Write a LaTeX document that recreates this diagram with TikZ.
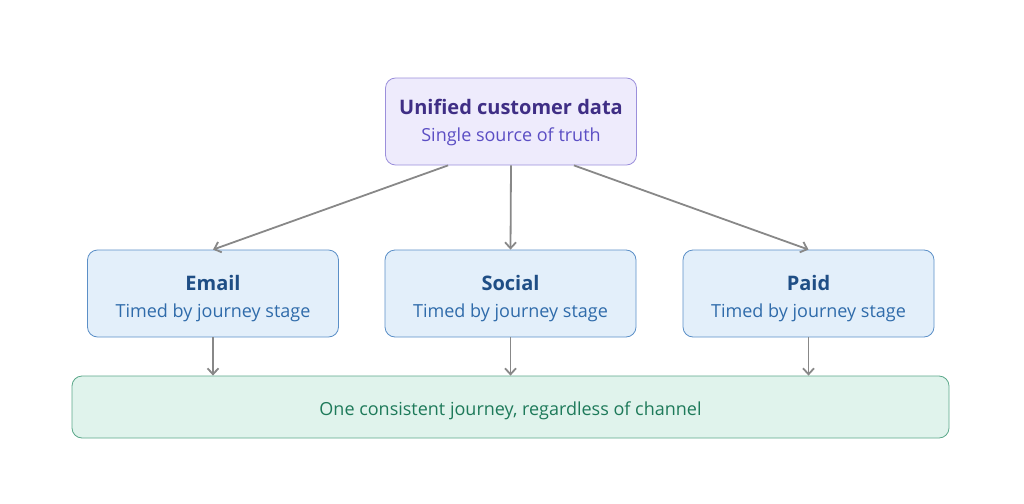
\documentclass[tikz,border=0pt]{standalone}
\usepackage{fontspec}
\setmainfont{Open Sans}
\usetikzlibrary{arrows.meta,positioning,calc}

\definecolor{topfill}{HTML}{EEEBFC}
\definecolor{topdraw}{HTML}{9B8FDB}
\definecolor{toptitle}{HTML}{3F2E85}
\definecolor{topsub}{HTML}{5B4EC4}
\definecolor{chfill}{HTML}{E3EFFA}
\definecolor{chdraw}{HTML}{5B8FC7}
\definecolor{chtitle}{HTML}{1F4E85}
\definecolor{chsub}{HTML}{2F6BAA}
\definecolor{endfill}{HTML}{E0F3EC}
\definecolor{enddraw}{HTML}{5BA88A}
\definecolor{endtext}{HTML}{1E7A5A}
\definecolor{linkgray}{HTML}{888888}

\begin{document}
\begin{tikzpicture}[x=1pt,y=-1pt,
    box/.style={rectangle, rounded corners=10pt, line width=0.8pt,
      minimum width=251pt, minimum height=87pt, inner sep=0pt},
    hub/.style={box, fill=topfill, draw=topdraw},
    channel/.style={box, fill=chfill, draw=chdraw},
    outcome/.style={box, fill=endfill, draw=enddraw, minimum width=877pt, minimum height=62pt},
    title/.style={anchor=base, inner sep=0pt, font=\fontsize{20}{24}\selectfont\bfseries},
    sub/.style={anchor=base, inner sep=0pt, font=\fontsize{18}{22}\selectfont},
    link/.style={-{Straight Barb[length=6pt,width=11pt]}, draw=linkgray, line width=1.8pt}]

  \useasboundingbox (0,0) rectangle (1024,503);

  % boxes
  \node[hub]     (data)    at (511,121.5) {};
  \node[channel] (email)   at (213,293.5) {};
  \node[channel] (social)  at (510.5,293.5) {};
  \node[channel] (paid)    at (808.5,293.5) {};
  \node[outcome] (journey) at (510.5,407) {};

  % texts
  \node[title, text=toptitle] (datatitle) at ($(data.center)+(0,-7.5)$) {Unified customer data};
  \node[sub, text=topsub]     (datasub)   at ($(data.center)+(0,19.5)$) {Single source of truth};
  \foreach \ch/\name in {email/Email, social/Social, paid/Paid} {
    \node[title, text=chtitle] (\ch title) at ($(\ch.center)+(0,-3.5)$) {\name};
    \node[sub, text=chsub]     (\ch sub)   at ($(\ch.center)+(0,24)$) {Timed by journey stage};
  }
  \node[sub, text=endtext] (journeytext) at ($(journey.center)+(0,8)$) {One consistent journey, regardless of channel};

  % links
  \draw[link] ($(data.south west)!0.25!(data.south east)$) -- (email.north);
  \draw[link] (data.south) -- (social.north);
  \draw[link] ($(data.south west)!0.75!(data.south east)$) -- (paid.north);

  \draw[link] (email.south) -- (email.south |- journey.north);
  \draw[link] (social.south) -- (social.south |- journey.north);
  \draw[link] (paid.south) -- (paid.south |- journey.north);
\end{tikzpicture}
\end{document}
